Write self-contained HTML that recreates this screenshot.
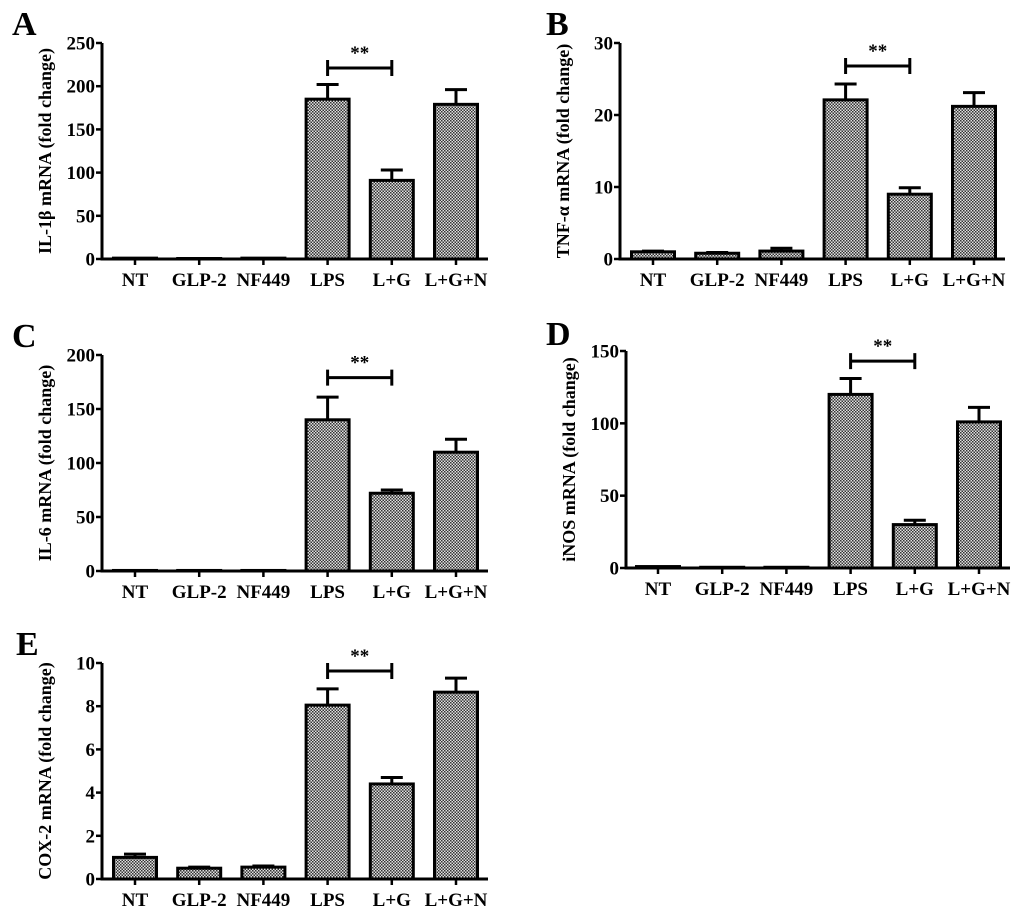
<!DOCTYPE html>
<html><head><meta charset="utf-8"><style>
html,body{margin:0;padding:0;background:#fff}
svg{display:block}
text{font-family:"Liberation Serif",serif;font-weight:bold;fill:#000}
</style></head><body>
<svg id="fig" width="1024" height="915" viewBox="0 0 1024 915">
<defs>
<pattern id="chk" width="3" height="3" patternUnits="userSpaceOnUse">
<rect width="3" height="3" fill="#e0e0e0"/>
<rect width="1.5" height="1.5" fill="#333"/>
<rect x="1.5" y="1.5" width="1.5" height="1.5" fill="#333"/>
</pattern>
</defs>
</svg>
<script>
const categories = ["NT","GLP-2","NF449","LPS","L+G","L+G+N"];
const valuesA = [1,0.5,1,185,91,179];
const errorsA = [0,0,0,17,12,17];
const ticksA = [0,50,100,150,200,250];
const valuesB = [1,0.8,1.1,22.1,9,21.2];
const errorsB = [0.1,0.1,0.4,2.2,0.9,1.9];
const ticksB = [0,10,20,30];
const valuesC = [0.5,0.5,0.5,140,72,110];
const errorsC = [0,0,0,21,3,12];
const ticksC = [0,50,100,150,200];
const valuesD = [1,0.5,0.5,120,30,101];
const errorsD = [0,0,0,11,3,10];
const ticksD = [0,50,100,150];
const valuesE = [1,0.5,0.55,8.05,4.4,8.65];
const errorsE = [0.15,0.05,0.05,0.75,0.3,0.65];
const ticksE = [0,2,4,6,8,10];
const sigA = 221, sigB = 26.8, sigC = 179, sigD = 143, sigE = 9.63;

const NS = "http://www.w3.org/2000/svg";
const svg = document.getElementById("fig");
function mk(tag, attrs, parent){
  const e = document.createElementNS(NS, tag);
  for (const k in attrs) e.setAttribute(k, attrs[k]);
  parent.appendChild(e);
  return e;
}
function panel(id, letter, title, values, errors, ticks, sig, ax, top, zero, x0, end, lx, ly){
  const g = mk("g", {}, svg);
  
  
  const max = ticks[ticks.length-1];
  const y = v => zero - (v / max) * (zero - top);
  const x = i => x0 + i * 64.2;
  const L = mk("text", {x: lx, y: ly, "font-size": 34}, g);
  L.textContent = letter;
  
  
  values.forEach((v, i) => {
    const cx = x(i);
    const et = y(v + errors[i]);
    if (errors[i] > 0) {
      const el = mk("path", {d: `M${cx} ${y(v)}V${et}M${cx-11} ${et}H${cx+11}`, stroke: "#000", "stroke-width": 3, fill: "none"}, g);
      
      
    }
    const h = Math.max(zero - y(v), 0.5);
    const b = mk("rect", {x: cx - 21.5, y: zero - h, width: 43, height: h, fill: "url(#chk)", stroke: "#000", "stroke-width": 3}, g);
    
    
    const t = mk("text", {x: cx, y: zero + 27, "font-size": 19, "text-anchor": "middle"}, g);
    t.textContent = categories[i];
    
    
    mk("line", {x1: cx, x2: cx, y1: zero, y2: zero + 6, stroke: "#000", "stroke-width": 2.5}, g);
  });
  const axis = mk("path", {d: `M${ax} ${top}V${zero}H${end}`, stroke: "#000", "stroke-width": 3, fill: "none"}, g);
  
  
  ticks.forEach(tv => {
    mk("line", {x1: ax - 6, x2: ax, y1: y(tv), y2: y(tv), stroke: "#000", "stroke-width": 2.5}, g);
    const t = mk("text", {x: ax - 7, y: y(tv) + 6.5, "font-size": 19, "text-anchor": "end"}, g);
    t.textContent = tv;
    
    
  });
  const yt = mk("text", {x: 0, y: 0, "font-size": 18, "text-anchor": "middle", transform: `translate(${ax-51},${(top+zero)/2}) rotate(-90)`}, g);
  yt.textContent = title;
  
  
  const sy = y(sig), a = x(3), c = x(4);
  const br = mk("path", {d: `M${a} ${sy-8}V${sy+8}M${a} ${sy}H${c}M${c} ${sy-8}V${sy+8}`, stroke: "#000", "stroke-width": 3, fill: "none"}, g);
  
  
  const st = mk("text", {x: (a + c) / 2, y: sy - 9, "font-size": 19, "text-anchor": "middle"}, g);
  st.textContent = "**";
  
  
}
panel("a", "A", "IL-1β mRNA (fold change)", valuesA, errorsA, ticksA, sigA, 102, 43, 259, 135, 488, 12, 35);
panel("b", "B", "TNF-α mRNA (fold change)", valuesB, errorsB, ticksB, sigB, 620, 43, 259, 653, 1005, 546, 35);
panel("c", "C", "IL-6 mRNA (fold change)", valuesC, errorsC, ticksC, sigC, 102, 355, 571, 135, 488, 12, 347);
panel("d", "D", "iNOS mRNA (fold change)", valuesD, errorsD, ticksD, sigD, 626, 351, 568, 658, 1010, 546, 345);
panel("e", "E", "COX-2 mRNA (fold change)", valuesE, errorsE, ticksE, sigE, 102, 663, 879, 135, 488, 16, 655);
</script>
</body></html>
